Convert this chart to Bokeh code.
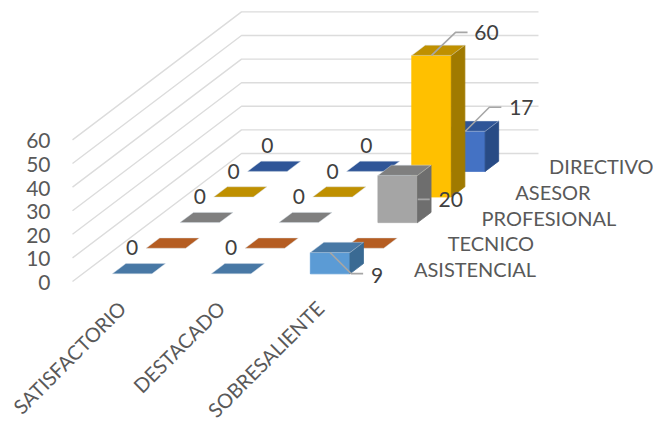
import numpy as np
from bokeh.plotting import figure
from bokeh.core.properties import value
from bokeh.embed import file_html
from bokeh.resources import INLINE

categories = ["SATISFACTORIO", "DESTACADO", "SOBRESALIENTE"]
series_names = ["ASISTENCIAL", "TECNICO", "PROFESIONAL", "ASESOR", "DIRECTIVO"]
asistencial = [0, 0, 9]
tecnico = [0, 0, 0]
profesional = [0, 0, 20]
asesor = [0, 0, 60]
directivo = [0, 0, 17]
series_values = [asistencial, tecnico, profesional, asesor, directivo]
value_ticks = [0, 10, 20, 30, 40, 50, 60]

front_cols = ["#5B9BD5", "#ED7D31", "#A5A5A5", "#FFC000", "#4472C4"]
top_cols = ["#4878A5", "#B55D22", "#7F7F7F", "#BF9000", "#2F5597"]
side_cols = ["#3A6A93", "#A0501C", "#6E6E6E", "#A07A00", "#284B85"]

FONT = value("Lato")
FS = "20px"
X0, Y0 = 72.0, 281.0
DX_C, DX_S, DY_S, DY_V = 99.0, 33.8, 25.6, 2.36


def proj(c, s, v):
    return X0 + DX_C * c + DX_S * s, Y0 - DY_S * s - DY_V * v


p = figure(width=653, height=421, x_range=(0, 653), y_range=(421, 0),
           output_backend="svg", toolbar_location=None, min_border=0)
p.xaxis.visible = False
p.yaxis.visible = False
p.xgrid.visible = False
p.ygrid.visible = False
p.outline_line_color = None
p.background_fill_color = "white"
p.border_fill_color = "white"

# walls
n_c, n_s = len(categories), len(series_names)
for v in value_ticks:
    a, b, c = proj(0, 0, v), proj(0, n_s, v), proj(n_c, n_s, v)
    p.line([a[0], b[0], c[0]], [a[1], b[1], c[1]], line_color="#DCDCDC", line_width=1.4)

# bars, back to front
for s in range(n_s - 1, -1, -1):
    for c in range(n_c):
        v = series_values[s][c]
        c0, c1, s0, s1 = c + 0.3, c + 0.7, s + 0.3, s + 0.7
        top = [proj(c0, s0, v), proj(c1, s0, v), proj(c1, s1, v), proj(c0, s1, v)]
        if v > 0:
            front = [proj(c0, s0, 0), proj(c1, s0, 0), proj(c1, s0, v), proj(c0, s0, v)]
            side = [proj(c1, s0, 0), proj(c1, s1, 0), proj(c1, s1, v), proj(c1, s0, v)]
            for pts, col in ((front, front_cols[s]), (side, side_cols[s])):
                p.patch([q[0] for q in pts], [q[1] for q in pts], fill_color=col,
                        line_color=col, line_width=0.8)
        p.patch([q[0] for q in top], [q[1] for q in top], fill_color=top_cols[s],
                line_color="#D5DEE8", line_alpha=0.55, line_width=0.8)

# leader lines and data labels: offsets from the middle of the bar's front-top edge
leaders = {
    0: ((0, 0), (21, 21), (33, 21), (47, 23)),
    2: ((20, 24), (20, 24), (32, 24), (53, 24)),
    3: ((0, 0), (24, -23), (36, -23), (55, -23)),
    4: ((0, 0), (24, -24), (36, -24), (56, -24)),
}
zero_off = (0, -26)
txt_x, txt_y, txt = [], [], []
for s in range(n_s):
    for c in range(n_c):
        v = series_values[s][c]
        if s == 1:
            continue
        bx, by = proj(c + 0.5, s + 0.3, v)
        if v > 0:
            off = leaders[s]
            p.line([bx + o[0] for o in off[:3]], [by + o[1] for o in off[:3]],
                   line_color="#A6A6A6", line_width=1.6)
            txt_x.append(bx + off[3][0])
            txt_y.append(by + off[3][1])
        else:
            txt_x.append(bx + zero_off[0])
            txt_y.append(by + zero_off[1])
        txt.append(str(v))
p.text(txt_x, txt_y, text=txt, text_font=FONT, text_font_size="21px", text_color="#404040",
       text_align="center", text_baseline="middle")

# value axis labels
p.text([50] * len(value_ticks), [proj(0, 0, v)[1] + 1 for v in value_ticks],
       text=[str(v) for v in value_ticks], text_font=FONT, text_font_size="21px",
       text_color="#595959", text_align="right", text_baseline="middle")

# series labels
p.text([proj(n_c, s + 0.5, 0)[0] + 27.5 for s in range(n_s)],
       [proj(n_c, s + 0.5, 0)[1] for s in range(n_s)],
       text=series_names, text_font=FONT, text_font_size=FS, text_color="#595959",
       text_align="left", text_baseline="middle")

# category labels
p.text([proj(c + 0.5, 0, 0)[0] + 0 for c in range(n_c)], [304] * n_c, text=categories,
       angle=np.pi / 4, text_font=FONT, text_font_size=FS, text_color="#595959",
       text_align="right", text_baseline="middle")

open("out.html", "w").write(file_html(p, INLINE))
